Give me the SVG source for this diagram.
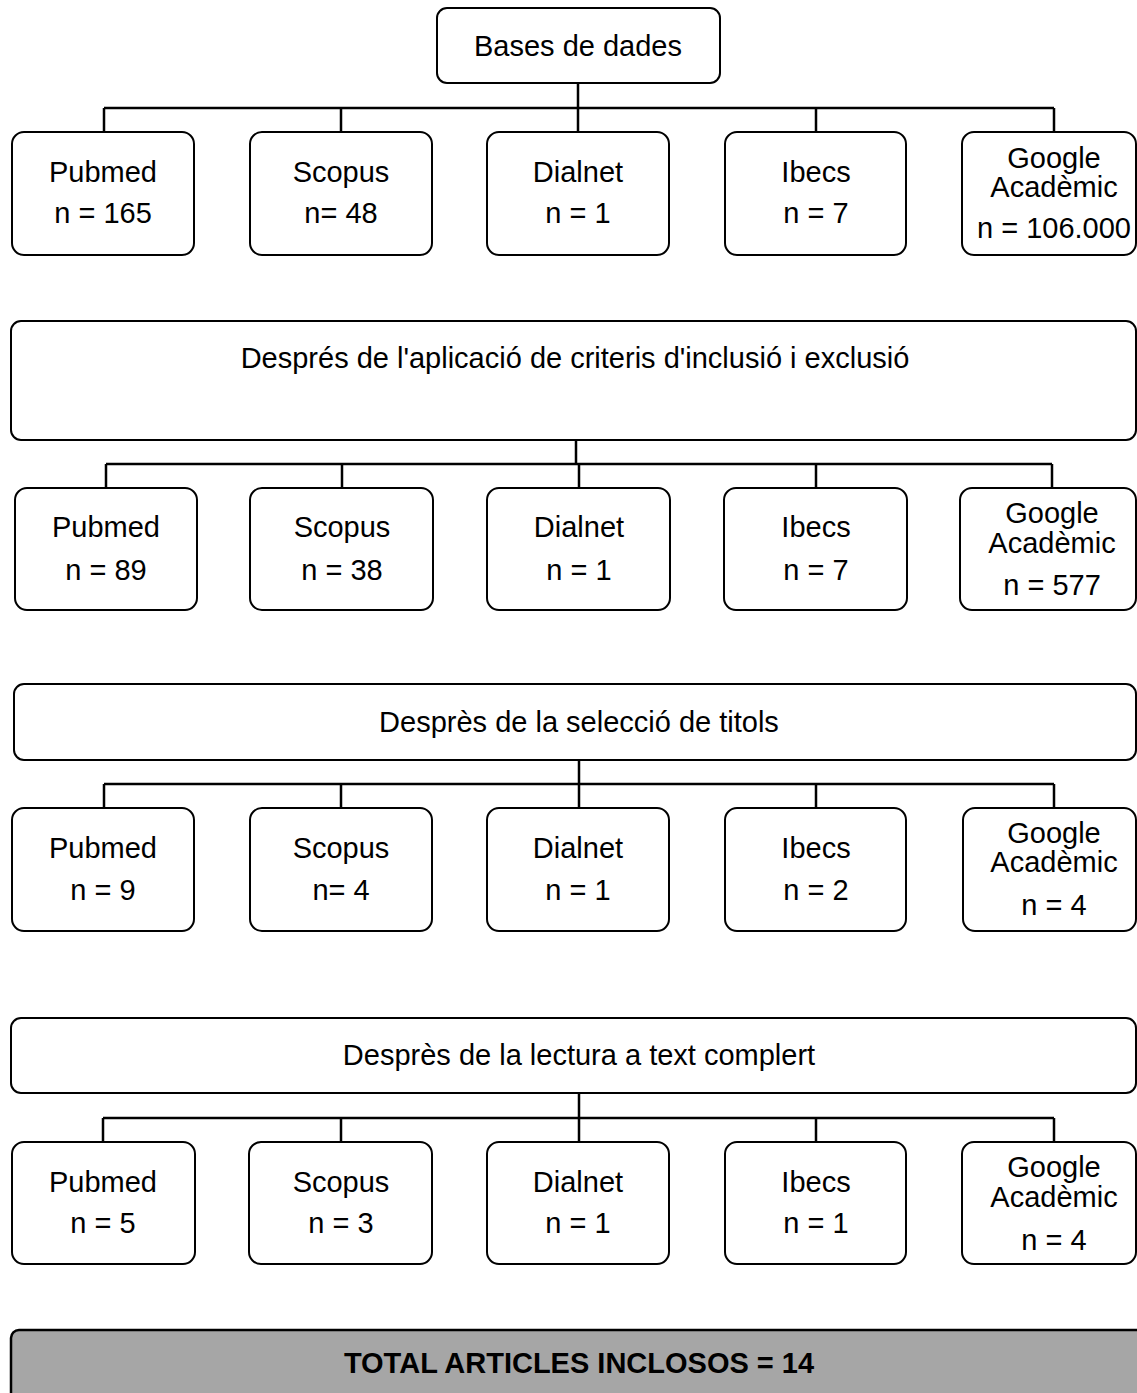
<svg xmlns="http://www.w3.org/2000/svg" width="1137" height="1393" viewBox="0 0 1137 1393">
<style>
.box{fill:#fff;stroke:#000;stroke-width:2}
.tot{fill:#a6a6a6;stroke:#000;stroke-width:2.5}
.t{font-family:"Liberation Sans",Arial,sans-serif;font-size:29px;fill:#000;text-anchor:middle}
.b{font-weight:bold}
.ln{stroke:#000;stroke-width:2.5;fill:none}
</style>
<rect width="1137" height="1393" fill="#fff"/>
<g id="connectors">
<path class="ln" d="M578 83V108M104 108H1054M104 108V132M341 108V132M578 108V132M816 108V132M1054 108V132"/>
<path class="ln" d="M576 440V464M106 464H1052M106 464V488M342 464V488M579 464V488M816 464V488M1052 464V488"/>
<path class="ln" d="M579 760V784M104 784H1054M104 784V808M341 784V808M579 784V808M816 784V808M1054 784V808"/>
<path class="ln" d="M579 1093V1118M103 1118H1054M103 1118V1142M341 1118V1142M579 1118V1142M816 1118V1142M1054 1118V1142"/>
</g>
<g id="bases"><rect class="box" x="437" y="8" width="283" height="75" rx="10"/><text class="t" x="578" y="56">Bases de dades</text></g>
<g id="r1-pubmed"><rect class="box" x="12" y="132" width="182" height="123" rx="12"/><text class="t" x="103" y="182">Pubmed</text><text class="t" x="103" y="223">n = 165</text></g>
<g id="r1-scopus"><rect class="box" x="250" y="132" width="182" height="123" rx="12"/><text class="t" x="341" y="182">Scopus</text><text class="t" x="341" y="223">n= 48</text></g>
<g id="r1-dialnet"><rect class="box" x="487" y="132" width="182" height="123" rx="12"/><text class="t" x="578" y="182">Dialnet</text><text class="t" x="578" y="223">n = 1</text></g>
<g id="r1-ibecs"><rect class="box" x="725" y="132" width="181" height="123" rx="12"/><text class="t" x="816" y="182">Ibecs</text><text class="t" x="816" y="223">n = 7</text></g>
<g id="r1-google"><rect class="box" x="962" y="132" width="174" height="123" rx="12"/><text class="t" x="1054" y="168">Google</text><text class="t" x="1054" y="197">Acadèmic</text><text class="t" x="1054" y="238">n = 106.000</text></g>
<g id="criteris"><rect class="box" x="11" y="321" width="1125" height="119" rx="10"/><text class="t" x="575" y="368">Després de l'aplicació de criteris d'inclusió i exclusió</text></g>
<g id="r2-pubmed"><rect class="box" x="15" y="488" width="182" height="122" rx="12"/><text class="t" x="106" y="537">Pubmed</text><text class="t" x="106" y="580">n = 89</text></g>
<g id="r2-scopus"><rect class="box" x="250" y="488" width="183" height="122" rx="12"/><text class="t" x="342" y="537">Scopus</text><text class="t" x="342" y="580">n = 38</text></g>
<g id="r2-dialnet"><rect class="box" x="487" y="488" width="183" height="122" rx="12"/><text class="t" x="579" y="537">Dialnet</text><text class="t" x="579" y="580">n = 1</text></g>
<g id="r2-ibecs"><rect class="box" x="724" y="488" width="183" height="122" rx="12"/><text class="t" x="816" y="537">Ibecs</text><text class="t" x="816" y="580">n = 7</text></g>
<g id="r2-google"><rect class="box" x="960" y="488" width="176" height="122" rx="12"/><text class="t" x="1052" y="523">Google</text><text class="t" x="1052" y="553">Acadèmic</text><text class="t" x="1052" y="595">n = 577</text></g>
<g id="titols"><rect class="box" x="14" y="684" width="1122" height="76" rx="10"/><text class="t" x="579" y="732">Desprès de la selecció de titols</text></g>
<g id="r3-pubmed"><rect class="box" x="12" y="808" width="182" height="123" rx="12"/><text class="t" x="103" y="858">Pubmed</text><text class="t" x="103" y="900">n = 9</text></g>
<g id="r3-scopus"><rect class="box" x="250" y="808" width="182" height="123" rx="12"/><text class="t" x="341" y="858">Scopus</text><text class="t" x="341" y="900">n= 4</text></g>
<g id="r3-dialnet"><rect class="box" x="487" y="808" width="182" height="123" rx="12"/><text class="t" x="578" y="858">Dialnet</text><text class="t" x="578" y="900">n = 1</text></g>
<g id="r3-ibecs"><rect class="box" x="725" y="808" width="181" height="123" rx="12"/><text class="t" x="816" y="858">Ibecs</text><text class="t" x="816" y="900">n = 2</text></g>
<g id="r3-google"><rect class="box" x="963" y="808" width="173" height="123" rx="12"/><text class="t" x="1054" y="843">Google</text><text class="t" x="1054" y="872">Acadèmic</text><text class="t" x="1054" y="915">n = 4</text></g>
<g id="lectura"><rect class="box" x="11" y="1018" width="1125" height="75" rx="10"/><text class="t" x="579" y="1065">Desprès de la lectura a text complert</text></g>
<g id="r4-pubmed"><rect class="box" x="12" y="1142" width="183" height="122" rx="12"/><text class="t" x="103" y="1192">Pubmed</text><text class="t" x="103" y="1233">n = 5</text></g>
<g id="r4-scopus"><rect class="box" x="249" y="1142" width="183" height="122" rx="12"/><text class="t" x="341" y="1192">Scopus</text><text class="t" x="341" y="1233">n = 3</text></g>
<g id="r4-dialnet"><rect class="box" x="487" y="1142" width="182" height="122" rx="12"/><text class="t" x="578" y="1192">Dialnet</text><text class="t" x="578" y="1233">n = 1</text></g>
<g id="r4-ibecs"><rect class="box" x="725" y="1142" width="181" height="122" rx="12"/><text class="t" x="816" y="1192">Ibecs</text><text class="t" x="816" y="1233">n = 1</text></g>
<g id="r4-google"><rect class="box" x="962" y="1142" width="174" height="122" rx="12"/><text class="t" x="1054" y="1177">Google</text><text class="t" x="1054" y="1207">Acadèmic</text><text class="t" x="1054" y="1250">n = 4</text></g>
<g id="total"><rect class="tot" x="11" y="1330" width="1140" height="80" rx="8"/><text class="t b" x="579" y="1373">TOTAL ARTICLES INCLOSOS = 14</text></g>
</svg>
